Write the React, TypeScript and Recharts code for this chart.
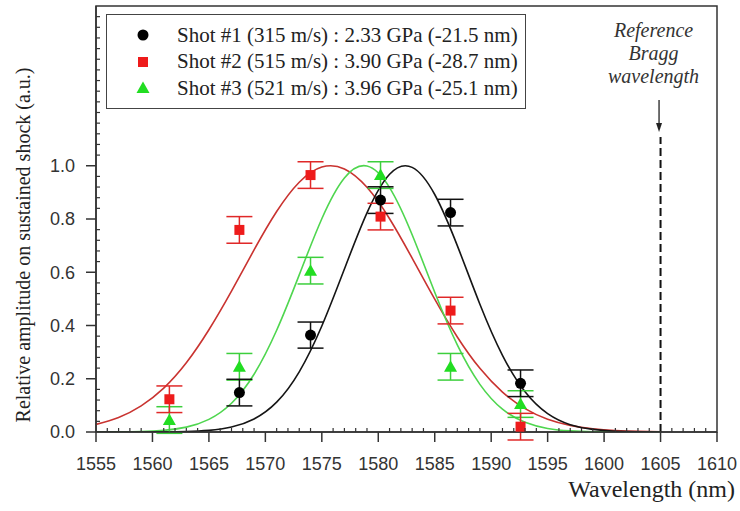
import {
  ComposedChart,
  Line,
  Scatter,
  ErrorBar,
  XAxis,
  YAxis,
  ReferenceLine,
  ReferenceDot,
  ReferenceArea,
  Legend,
} from "recharts";

// Gaussian fit curves, sampled every 2 nm
const fitWavelengths = [
  1555, 1557, 1559, 1561, 1563, 1565, 1567, 1569, 1571, 1573, 1575, 1577, 1579,
  1581, 1583, 1585, 1587, 1589, 1591, 1593, 1595, 1597, 1599, 1601, 1603, 1605,
];
const shot1Fit = [
  0, 0, 0.0001, 0.0005, 0.0018, 0.0061, 0.0185, 0.049, 0.112, 0.226, 0.398,
  0.612, 0.823, 0.968, 0.994, 0.892, 0.7, 0.48, 0.288, 0.151, 0.069, 0.0276,
  0.0097, 0.003, 0.0008, 0.0002,
];
const shot2Fit = [
  0.0286, 0.0548, 0.0984, 0.165, 0.26, 0.384, 0.529, 0.684, 0.828, 0.938, 0.995,
  0.988, 0.919, 0.801, 0.653, 0.499, 0.357, 0.239, 0.15, 0.088, 0.048, 0.0249,
  0.012, 0.0054, 0.0023, 0.0009,
];
const shot3Fit = [
  0.0001, 0.0005, 0.0018, 0.0062, 0.0183, 0.0475, 0.108, 0.217, 0.382, 0.59,
  0.801, 0.954, 0.999, 0.918, 0.741, 0.525, 0.327, 0.179, 0.0858, 0.0362,
  0.0134, 0.0044, 0.0012, 0.0003, 0.0001, 0,
];

// measured amplitudes with error bars
const shot1Wavelengths = [1567.7, 1574.0, 1580.2, 1586.4, 1592.6];
const shot1Values = [0.148, 0.364, 0.871, 0.824, 0.183];
const shot1Errors = [0.05, 0.049, 0.05, 0.05, 0.05];

const shotWavelengths = [1561.5, 1567.7, 1574.0, 1580.2, 1586.4, 1592.6];
const shot2Values = [0.123, 0.759, 0.965, 0.809, 0.456, 0.02];
const shot2Errors = [0.05, 0.05, 0.05, 0.05, 0.05, 0.05];
const shot3Values = [0.045, 0.245, 0.606, 0.965, 0.245, 0.105];
const shot3Errors = [0.05, 0.05, 0.05, 0.05, 0.05, 0.05];

const legendLabels = [
  "Shot #1 (315 m/s) : 2.33 GPa (-21.5 nm)",
  "Shot #2 (515 m/s) : 3.90 GPa (-28.7 nm)",
  "Shot #3 (521 m/s) : 3.96 GPa (-25.1 nm)",
];

const braggWavelength = 1605;
const braggLabel = ["Reference", "Bragg", "wavelength"];

const xTicks = Array.from({ length: 56 }, (_, i) => 1555 + i);
const yTicks = Array.from({ length: 40 }, (_, i) => i * 0.04);

const toPoints = (xs: number[], ys: number[], errs?: number[]) =>
  xs.map((x, i) => ({ x, y: ys[i], err: errs ? errs[i] : 0 }));

const fit1 = toPoints(fitWavelengths, shot1Fit);
const fit2 = toPoints(fitWavelengths, shot2Fit);
const fit3 = toPoints(fitWavelengths, shot3Fit);
const pts1 = toPoints(shot1Wavelengths, shot1Values, shot1Errors);
const pts2 = toPoints(shotWavelengths, shot2Values, shot2Errors);
const pts3 = toPoints(shotWavelengths, shot3Values, shot3Errors);

const AXIS = "#333";
const SANS = '"Liberation Sans", Arial, sans-serif';
const SERIF = '"Liberation Serif", "Times New Roman", serif';

const RED = "#ee1b1b";
const GREEN = "#22dd22";

const Circle = ({ cx, cy }: any) => <circle cx={cx} cy={cy} r={5.5} fill="#000" />;
const Square = ({ cx, cy }: any) => (
  <rect x={cx - 5} y={cy - 5} width={10} height={10} fill={RED} />
);
const Triangle = ({ cx, cy }: any) => (
  <polygon
    points={`${cx},${cy - 6.5} ${cx - 6.5},${cy + 5} ${cx + 6.5},${cy + 5}`}
    fill={GREEN}
  />
);

const markers = [Circle, Square, Triangle];

function XTick({ x, y, payload }: any) {
  const v = payload.value;
  if (v % 5 !== 0) {
    return <line x1={x} x2={x} y1={y} y2={y - 4} stroke={AXIS} strokeWidth={1.2} />;
  }
  return (
    <g>
      <line x1={x} x2={x} y1={y} y2={y + 10} stroke={AXIS} strokeWidth={1.5} />
      <text x={x} y={y + 38} textAnchor="middle" style={{ fontFamily: SANS, fontSize: 18 }} fill="#333">
        {v}
      </text>
    </g>
  );
}

function YTick({ x, y, payload }: any) {
  const v = payload.value;
  const major = Math.round(v * 100) % 20 === 0 && v <= 1.001;
  if (!major) {
    return <line x1={x} x2={x + 4} y1={y} y2={y} stroke={AXIS} strokeWidth={1.2} />;
  }
  return (
    <g>
      <line x1={x - 10} x2={x} y1={y} y2={y} stroke={AXIS} strokeWidth={1.5} />
      <text x={x - 21} y={y} dy="0.35em" textAnchor="end" style={{ fontFamily: SANS, fontSize: 18 }} fill="#333">
        {v.toFixed(1)}
      </text>
    </g>
  );
}

function LegendBox() {
  return (
    <div
      style={{
        position: "relative",
        width: 420,
        height: 95,
        boxSizing: "border-box",
        border: "1.5px solid #444",
        background: "#fff",
        fontFamily: SERIF,
        fontSize: 21,
        color: "#222",
      }}
    >
      {legendLabels.map((label, i) => {
        const Marker = markers[i];
        return (
          <div
            key={label}
            style={{
              position: "absolute",
              left: 0,
              top: 7 + i * 26.5,
              height: 26,
              display: "flex",
              alignItems: "center",
              whiteSpace: "nowrap",
            }}
          >
            <svg width={70} height={26}>
              <Marker cx={36} cy={13} />
            </svg>
            <span>{label}</span>
          </div>
        );
      })}
    </div>
  );
}

function BraggArrow({ cx, cy }: any) {
  return (
    <g>
      <line x1={cx - 1.5} x2={cx - 1.5} y1={cy - 32} y2={cy - 3} stroke="#222" strokeWidth={1.3} />
      <polygon
        points={`${cx - 1.5},${cy} ${cx - 4.5},${cy - 9} ${cx + 1.5},${cy - 9}`}
        fill="#222"
      />
      {braggLabel.map((line, i) => (
        <text
          key={line}
          x={cx - 7}
          y={cy - 95 + i * 23}
          textAnchor="middle"
          style={{ fontFamily: SERIF, fontStyle: "italic", fontSize: 20 }}
          fill="#333"
        >
          {line}
        </text>
      ))}
    </g>
  );
}

export default function App() {
  return (
    <div style={{ position: "absolute", left: 0, top: 0, background: "#fff" }}>
      <ComposedChart
        width={740}
        height={511}
        margin={{ top: 6, right: 23, bottom: 0, left: 0 }}
      >
        <ReferenceArea
          x1={1555}
          x2={1610}
          y1={0}
          y2={1.6}
          fill="none"
          stroke={AXIS}
          strokeWidth={1.5}
        />
        <XAxis
          type="number"
          dataKey="x"
          domain={[1555, 1610]}
          ticks={xTicks}
          interval={0}
          tickSize={0}
          tickMargin={0}
          tickLine={false}
          tick={<XTick />}
          axisLine={{ stroke: AXIS, strokeWidth: 1.5 }}
          height={79}
          allowDataOverflow
          label={{
            content: ({ viewBox }: any) => (
              <text
                x={viewBox.x + viewBox.width + 18}
                y={viewBox.y + 65}
                textAnchor="end"
                style={{ fontFamily: SERIF, fontSize: 24 }}
                fill="#222"
              >
                Wavelength (nm)
              </text>
            ),
          }}
        />
        <YAxis
          type="number"
          domain={[0, 1.6]}
          ticks={yTicks}
          interval={0}
          width={96}
          tickSize={0}
          tickMargin={0}
          tickLine={false}
          tick={<YTick />}
          axisLine={{ stroke: AXIS, strokeWidth: 1.5 }}
          allowDataOverflow
          label={{
            content: ({ viewBox }: any) => (
              <text
                x={23}
                y={viewBox.y + 239}
                transform={`rotate(-90 23 ${viewBox.y + 239})`}
                textAnchor="middle"
                dominantBaseline="central"
                style={{ fontFamily: SERIF, fontSize: 20 }}
                fill="#222"
              >
                Relative amplitude on sustained shock (a.u.)
              </text>
            ),
          }}
        />
        <ReferenceLine
          segment={[
            { x: braggWavelength, y: 0 },
            { x: braggWavelength, y: 1.108 },
          ]}
          stroke="#111"
          strokeWidth={2}
          strokeDasharray="8 4"
        />
        <ReferenceDot
          x={braggWavelength}
          y={1.127}
          r={0}
          shape={(p: any) => <BraggArrow {...p} />}
        />
        <Line data={fit2} dataKey="y" type="natural" stroke="#c93330" strokeWidth={1.6} dot={false} isAnimationActive={false} />
        <Line data={fit3} dataKey="y" type="natural" stroke="#4fd64f" strokeWidth={1.6} dot={false} isAnimationActive={false} />
        <Line data={fit1} dataKey="y" type="natural" stroke="#151515" strokeWidth={1.6} dot={false} isAnimationActive={false} />
        <Scatter data={pts3} dataKey="y" shape={<Triangle />} isAnimationActive={false}>
          <ErrorBar dataKey="err" direction="y" width={13} stroke="#3ccf3c" strokeWidth={1.5} />
        </Scatter>
        <Scatter data={pts2} dataKey="y" shape={<Square />} isAnimationActive={false}>
          <ErrorBar dataKey="err" direction="y" width={13} stroke="#e02828" strokeWidth={1.5} />
        </Scatter>
        <Scatter data={pts1} dataKey="y" shape={<Circle />} isAnimationActive={false}>
          <ErrorBar dataKey="err" direction="y" width={13} stroke="#111" strokeWidth={1.5} />
        </Scatter>
        <Legend
          layout="horizontal"
          verticalAlign="middle"
          align="center"
          wrapperStyle={{ top: 14, left: 106, width: 420, height: 95 }}
          content={() => <LegendBox />}
        />
      </ComposedChart>
    </div>
  );
}
